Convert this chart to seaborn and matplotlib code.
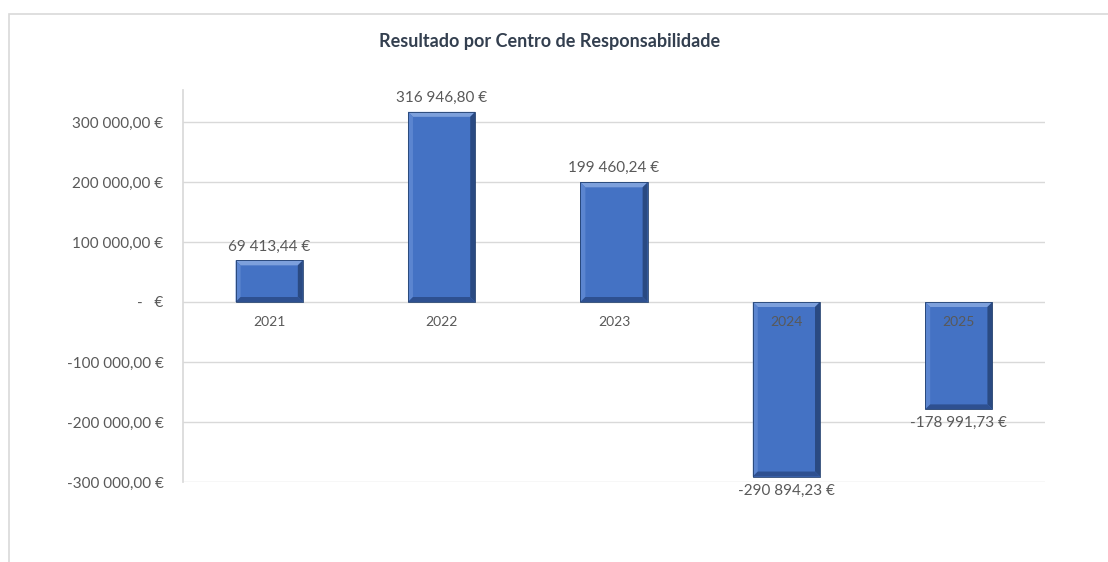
#Import packages
import pandas as pd
import matplotlib
matplotlib.use('Agg')
import matplotlib.pyplot as plt
from matplotlib.patches import Polygon, Rectangle
from matplotlib.ticker import FixedLocator, FuncFormatter
import seaborn as sns

# Chart data
years = ['2021', '2022', '2023', '2024', '2025']
results = [69413.44, 316946.80, 199460.24, -290894.23, -178991.73]
y_ticks = [-300000, -200000, -100000, 0, 100000, 200000, 300000]
title = 'Resultado por Centro de Responsabilidade'

BAR_COLOR = '#4472C4'
TEXT_COLOR = '#595959'
GRID_COLOR = '#D9D9D9'


def euro(value):
    """
    Format a number the Portuguese way: 316 946,80 €
    """
    if value == 0:
        return '-   €'
    sign = '-' if value < 0 else ''
    whole, frac = f'{abs(value):,.2f}'.split('.')
    return f"{sign}{whole.replace(',', ' ')},{frac} €"


def add_bevel(ax, patch, size=5):
    """
    Fake the Excel bevel effect on a bar, using the bar's own extents.
    """
    bb = patch.get_window_extent()
    x0, y0, x1, y1 = bb.x0, bb.y0, bb.x1, bb.y1
    s = min(size, (x1 - x0) / 2, (y1 - y0) / 2)
    inv = ax.transData.inverted()
    faces = [
        ([(x0, y1), (x1, y1), (x1 - s, y1 - s), (x0 + s, y1 - s)], '#7DA0DC'),  # top
        ([(x0, y0), (x0, y1), (x0 + s, y1 - s), (x0 + s, y0 + s)], '#5B85D0'),  # left
        ([(x1, y0), (x1, y1), (x1 - s, y1 - s), (x1 - s, y0 + s)], '#2A4A82'),  # right
        ([(x0, y0), (x1, y0), (x1 - s, y0 + s), (x0 + s, y0 + s)], '#2E5090'),  # bottom
    ]
    for pts, col in faces:
        ax.add_patch(Polygon(inv.transform(pts), closed=True, facecolor=col,
                             edgecolor='none', zorder=3))
    # thin dark outline like the Excel shadow edge
    ax.add_patch(Polygon(inv.transform([(x0, y0), (x1, y0), (x1, y1), (x0, y1)]),
                         closed=True, fill=False, edgecolor='#22406F',
                         linewidth=0.6, zorder=3))


def draw_chart(data):
    """
    Draw the bar chart of results per year and save it to out.png.
    """
    sns.set_theme(style='white')
    plt.rcParams['font.family'] = ['Lato', 'DejaVu Sans']

    fig = plt.figure(figsize=(11.08, 5.62), dpi=100)
    ax = fig.add_axes([183 / 1108, 80 / 562, (1045 - 183) / 1108, 392 / 562])

    sns.barplot(data=data, x='year', y='result', color=BAR_COLOR, width=0.39,
                saturation=1, edgecolor='none', ax=ax, zorder=2)

    ax.set_ylim(-300000, 353333)
    ax.set_xlim(-0.5, len(years) - 0.5)

    # Axis look
    ax.yaxis.set_major_locator(FixedLocator(y_ticks))
    ax.yaxis.set_major_formatter(FuncFormatter(lambda v, p: euro(v)))
    ax.grid(axis='y', color=GRID_COLOR, linewidth=1, zorder=0)
    for side in ['top', 'right', 'bottom']:
        ax.spines[side].set_visible(False)
    ax.spines['left'].set_color(GRID_COLOR)
    ax.tick_params(axis='y', length=0, pad=14, labelsize=11, labelcolor=TEXT_COLOR)
    ax.set_xticks([])
    ax.set_xlabel('')
    ax.set_ylabel('')

    # Category labels sit just under the zero line
    for i, year in enumerate(data['year']):
        ax.annotate(year, (i, 0), xytext=(0, -10), textcoords='offset points',
                    ha='center', va='top', fontsize=10, color=TEXT_COLOR, zorder=5)

    # Data labels above/below each bar
    for i, value in enumerate(data['result']):
        off = 5 if value > 0 else -5
        ax.annotate(euro(value), (i, value), xytext=(0, off), textcoords='offset points',
                    ha='center', va='bottom' if value > 0 else 'top',
                    fontsize=11, color=TEXT_COLOR, zorder=5)

    fig.canvas.draw()
    for patch in list(ax.patches):
        add_bevel(ax, patch)

    fig.text(550 / 1108, 1 - 42 / 562, title, ha='center', va='center',
             fontsize=13, fontweight='bold', color='#333F4F')

    # Light frame around the chart area
    fig.patches.append(Rectangle((9 / 1108, -0.05), 1.2, 1.05 - 14 / 562,
                                 transform=fig.transFigure, fill=False,
                                 edgecolor=GRID_COLOR, linewidth=1.2))

    fig.savefig('out.png', dpi=100)
    plt.close(fig)


def main():
    data = pd.DataFrame({'year': years, 'result': results})
    draw_chart(data)


if __name__ == '__main__':
    main()
